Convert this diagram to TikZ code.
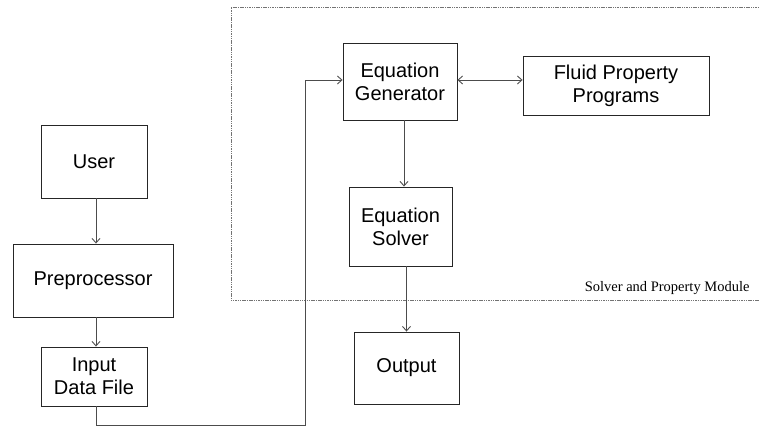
\documentclass[tikz,border=0pt]{standalone}
\usepackage{fontspec}
\setmainfont{Liberation Sans}
\newfontfamily\serifname{Liberation Serif}
\usetikzlibrary{arrows.meta}
\begin{document}
\begin{tikzpicture}[x=1pt,y=-1pt,
  box/.style={draw=black!85,line width=0.9pt,inner sep=0pt,align=center,font=\fontsize{20}{23}\selectfont},
  arr/.style={draw=black!70,line width=0.9pt,-{Straight Barb[length=4.5pt,width=8pt]}},
  darr/.style={draw=black!70,line width=0.9pt,{Straight Barb[length=4.5pt,width=8pt]}-{Straight Barb[length=4.5pt,width=8pt]}},
  frame/.style={draw=black!55,line width=0.7pt,dash pattern=on 1.5pt off 0.8pt}]
\useasboundingbox (0,0) rectangle (759,427);
\draw[frame] (759,7) -- (231,7) -- (231,300.5) -- (759,300.5);
\node[font=\serifname\fontsize{14.5}{16}\selectfont,anchor=base east] (lbl) at (753,291) {Solver and Property Module};
\node[box,minimum width=106,minimum height=73] (user) at (94,161.5) {User};
\node[box,minimum width=160,minimum height=73] (prep) at (93,280.5) {Preprocessor};
\node[box,minimum width=106,minimum height=59] (input) at (94,376.5) {Input\\Data File};
\node[box,minimum width=114,minimum height=77] (eqgen) at (400,81.5) {Equation\\Generator};
\node[box,minimum width=186,minimum height=59] (fluid) at (616,85.5) {Fluid Property\\Programs};
\node[box,minimum width=103,minimum height=79] (solver) at (400.5,226.5) {Equation\\Solver};
\node[box,minimum width=105,minimum height=72] (output) at (406.5,368) {Output};
\coordinate (turn) at (305,425);
\draw[arr] ([xshift=2pt]user.south) -- ([xshift=2pt]user.south |- prep.north);
\draw[arr] ([xshift=2pt]input.north |- prep.south) -- ([xshift=2pt]input.north);
\draw[arr] ([xshift=2pt]input.south) |- (turn) |- ([yshift=1.5pt]eqgen.west);
\draw[darr] ([yshift=1.5pt]eqgen.east) -- ([yshift=1.5pt]eqgen.east -| fluid.west);
\draw[arr] ([xshift=4pt]eqgen.south) -- ([xshift=4pt]eqgen.south |- solver.north);
\draw[arr] (output.north |- solver.south) -- (output.north);
\end{tikzpicture}
\end{document}
